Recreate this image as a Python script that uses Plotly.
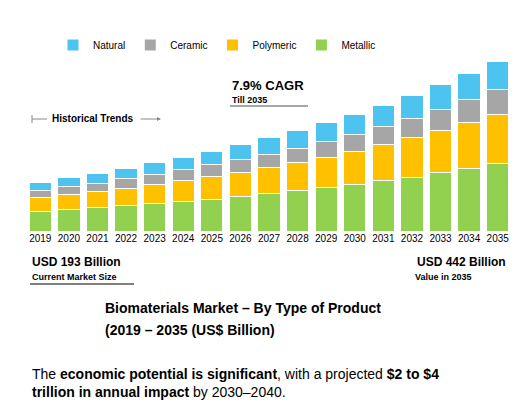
import plotly.graph_objects as go

years = [str(y) for y in range(2019, 2036)]
metallic = [58,63,70,76,82,88,94,103,112,120,130,139,150,161,175,188,203]
polymeric = [43,47,48,52,58,63,69,73,78,85,91,99,109,118,126,136,145]
ceramic = [20,24,25,29,29,33,36,38,40,43,47,52,53,58,63,69,75]
natural = [25,26,30,31,36,37,40,44,49,52,56,58,65,68,75,79,86]
series = [("Metallic", metallic, "#92D050"), ("Polymeric", polymeric, "#FFC000"),
          ("Ceramic", ceramic, "#A6A6A6"), ("Natural", natural, "#4DC3F0")]

fig = go.Figure()
for name, vals, col in series:
    fig.add_bar(x=years, y=vals, name=name, marker=dict(color=col, line=dict(color="white", width=1)))

W, H = 520, 420
def py(p): return 1 - p / H
def px(p): return p / W

ann = []
def t(x, y, text, size, anchor="left", bold=True):
    ann.append(dict(x=px(x), y=py(y), xref="paper", yref="paper", text=(f"<b>{text}</b>" if bold else text),
                    showarrow=False, xanchor=anchor, yanchor="middle", font=dict(size=size, color="black", family="Arial")))
t(222, 77, "7.9% CAGR", 13)
t(222, 92, "Till 2035", 9)
t(42, 111, "Historical Trends", 10)
t(22, 254, "USD 193 Billion", 12)
t(22, 269, "Current Market Size", 9)
t(500, 254, "USD 442 Billion", 12, "right")
t(405, 269, "Value in 2035", 9)
t(95, 300, "Biomaterials Market – By Type of Product", 14)
t(95, 322, "(2019 – 2035 (US$ Billion)", 14)
t(22, 366, "The <b>economic potential is significant</b>, with a projected <b>$2 to $4</b>", 14, bold=False)
t(22, 384, "<b>trillion in annual impact</b> by 2030–2040.", 14, bold=False)

shapes = [
    dict(type="line", xref="paper", yref="paper", x0=px(222), x1=px(300), y0=py(98), y1=py(98), line=dict(color="#888", width=1.5)),
    dict(type="line", xref="paper", yref="paper", x0=px(24), x1=px(39), y0=py(111), y1=py(111), line=dict(color="#888", width=1)),
    dict(type="line", xref="paper", yref="paper", x0=px(24), x1=px(24), y0=py(107), y1=py(115), line=dict(color="#888", width=1)),
    dict(type="line", xref="paper", yref="paper", x0=px(22), x1=px(126), y0=py(276), y1=py(276), line=dict(color="black", width=1)),
]
ann.append(dict(x=px(153), y=py(111), ax=-22, ay=0, xref="paper", yref="paper",
                showarrow=True, arrowhead=2, arrowsize=0.8, arrowwidth=1, arrowcolor="#888", text=""))

fig.update_layout(
    width=W, height=H, margin=dict(l=0, r=0, t=0, b=0), barmode="stack", bargap=0.22,
    plot_bgcolor="white", paper_bgcolor="white", font=dict(family="Arial", color="black"),
    xaxis=dict(domain=[px(18), px(504)], showline=False, ticks="", tickfont=dict(size=10), showgrid=False),
    yaxis=dict(domain=[py(223), py(53)], range=[0, 509], visible=False),
    legend=dict(orientation="h", x=px(45), y=py(37), xanchor="left", yanchor="middle", font=dict(size=10), itemwidth=30),
    annotations=ann, shapes=shapes,
)
fig.write_html("out.html")
